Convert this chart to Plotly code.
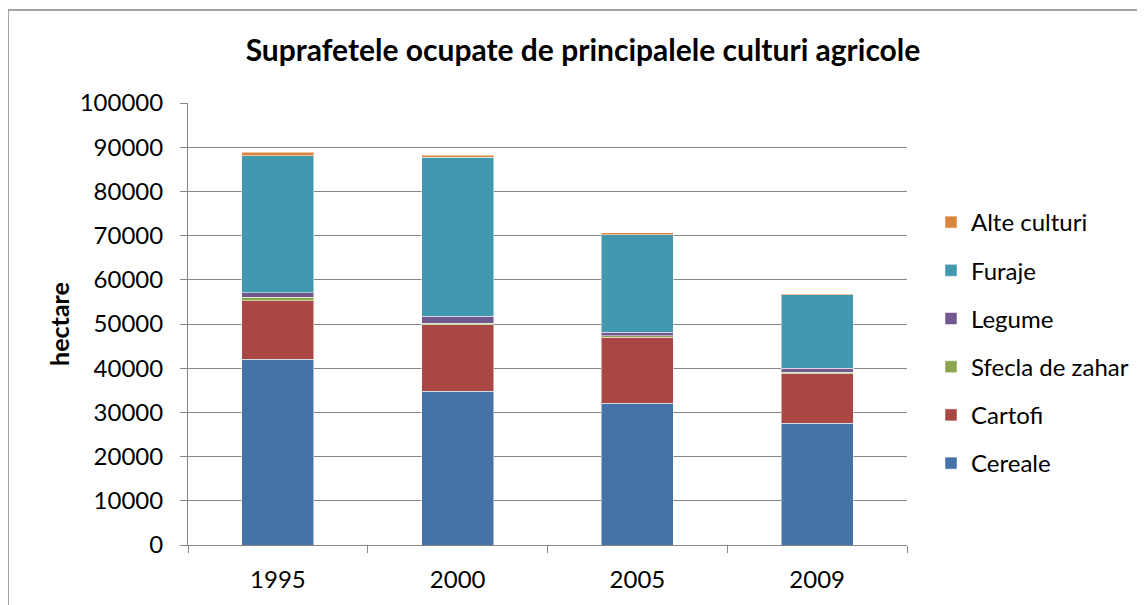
import plotly.graph_objects as go

years = ["1995", "2000", "2005", "2009"]
cereale = [42000, 34800, 32100, 27500]
cartofi = [13300, 15000, 14900, 11300]
sfecla = [700, 400, 300, 300]
legume = [1100, 1500, 800, 900]
furaje = [31000, 36000, 22100, 16600]
alte = [800, 450, 450, 300]

series = [
    ("Cereale", cereale, "#4572A7"),
    ("Cartofi", cartofi, "#AA4643"),
    ("Sfecla de zahar", sfecla, "#89A54E"),
    ("Legume", legume, "#71588F"),
    ("Furaje", furaje, "#4198AF"),
    ("Alte culturi", alte, "#DB843D"),
]

OFF = 8  # page body margin
W, H = 1145, 605
# plot area in page pixels: x 188..907, y 103..545
PL, PR, PT, PB = 188 - OFF, 907 - OFF, 103 - OFF, 545 - OFF
ml, mr, mt, mb = PL, W - PR, PT, H - PB
PW, PH = PR - PL, PB - PT
FONT = "Lato, Carlito, Open Sans, sans-serif"


def px(xpage):
    return (xpage - OFF - PL) / PW


def py(ypage):
    return (PB - (ypage - OFF)) / PH


fig = go.Figure()
n = len(series)
for i, (name, vals, col) in enumerate(series):
    fig.add_trace(go.Bar(
        x=years, y=vals, name=name, legendgroup=f"g{i}", legendrank=n - i,
        marker=dict(color=col, line=dict(color="rgba(255,255,255,0.5)", width=1)),
    ))

fig.update_layout(
    width=W, height=H,
    barmode="stack", bargap=0.6,
    plot_bgcolor="white", paper_bgcolor="white",
    margin=dict(l=ml, r=mr, t=mt, b=mb),
    font=dict(family=FONT, size=24, color="black"),
    title=dict(text="<b>Suprafetele ocupate de principalele culturi agricole</b>",
               x=px(583), xref="paper", xanchor="center",
               y=1 - (50 - OFF) / H, yanchor="middle", font=dict(size=30, family=FONT)),
    xaxis=dict(type="category", tickson="boundaries", ticks="outside", ticklen=7,
               tickcolor="#868686", showline=True, linecolor="#868686", linewidth=1,
               showgrid=False, tickfont=dict(size=24), ticklabelstandoff=13),
    yaxis=dict(range=[0, 100000], dtick=10000, tickformat="d", ticks="outside", ticklen=7,
               tickcolor="#868686", showline=True, linecolor="#868686", linewidth=1,
               showgrid=True, gridcolor="#868686", gridwidth=1, zeroline=False,
               tickfont=dict(size=24), ticklabelstandoff=12,
               title=dict(text="<b>hectare</b>", font=dict(size=25), standoff=2)),
    legend=dict(x=px(931), xanchor="left", y=py(200),
                yanchor="top", traceorder="grouped", tracegroupgap=14,
                font=dict(size=24), bgcolor="rgba(0,0,0,0)"),
    shapes=[dict(type="rect", xref="paper", yref="paper",
                 x0=px(8), x1=px(W + 30), y0=py(H + 30), y1=py(10),
                 line=dict(color="#868686", width=1.5), layer="below")],
)

fig.write_html("out.html")
